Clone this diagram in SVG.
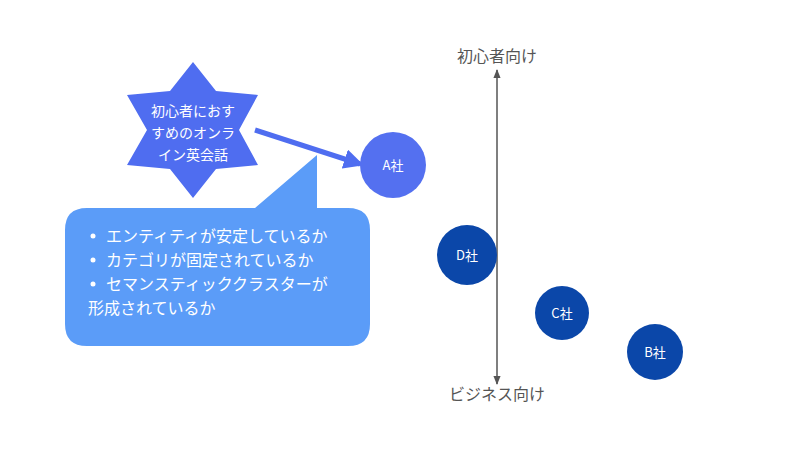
<svg xmlns="http://www.w3.org/2000/svg" width="800" height="450" viewBox="0 0 800 450">
<style>
text{font-family:"Noto Sans CJK JP","Noto Sans",sans-serif}
.w{fill:#fff;font-size:14px}
.ax{fill:#555;font-size:16px}
.dk{fill:#0b47a9}
</style>
<defs>
<marker id="ah" viewBox="0 0 10 10" refX="9" refY="5" markerWidth="6" markerHeight="6" orient="auto-start-reverse"><path d="M0,1 L10,5 L0,9 z" fill="#555"/></marker>
<marker id="bh" viewBox="0 0 10 10" refX="8" refY="5" markerWidth="4" markerHeight="4" orient="auto"><path d="M0,0 L10,5 L0,10 z" fill="#4f6df0"/></marker>
</defs>
<rect width="800" height="450" fill="#fff"/>
<g id="connectors">
<line x1="497" y1="70" x2="497" y2="384" stroke="#555" stroke-width="1.5" marker-start="url(#ah)" marker-end="url(#ah)"/>
<line x1="255" y1="130" x2="360" y2="164" stroke="#4f6df0" stroke-width="5" marker-end="url(#bh)"/>
</g>
<g id="star">
<polygon points="193,62 216,91 258,95 239,130 258,165 216,169 193,198 170,169 127,165 147,130 127,95 170,91" fill="#4f6df0"/>
<text class="w" text-anchor="middle" x="193" y="116">初心者におす</text>
<text class="w" text-anchor="middle" x="193" y="138">すめのオンラ</text>
<text class="w" text-anchor="middle" x="193" y="160">イン英会話</text>
</g>
<g id="callout">
<path d="M87,208 H255 L317,155 V208 H348 Q370,208 370,230 V324 Q370,346 348,346 H87 Q65,346 65,324 V230 Q65,208 87,208 Z" fill="#5b9cf8"/>
<g fill="#fff" font-size="16">
<circle cx="93" cy="236" r="2.5"/><circle cx="93" cy="260" r="2.5"/><circle cx="93" cy="284" r="2.5"/>
<text class="w" style="font-size:16px" x="106" y="242">エンティティが安定しているか</text>
<text class="w" style="font-size:16px" x="106" y="266">カテゴリが固定されているか</text>
<text class="w" style="font-size:16px" x="106" y="290">セマンスティッククラスターが</text>
<text class="w" style="font-size:16px" x="88" y="314">形成されているか</text>
</g>
</g>
<g id="A"><circle cx="393" cy="165" r="33" fill="#5470f0"/><text class="w" text-anchor="middle" x="393" y="170" style="font-size:13px">A社</text></g>
<g id="D"><circle cx="467" cy="255" r="30" class="dk"/><text class="w" text-anchor="middle" x="467" y="260" style="font-size:13px">D社</text></g>
<g id="C"><circle cx="562" cy="313" r="27" class="dk"/><text class="w" text-anchor="middle" x="562" y="318" style="font-size:13px">C社</text></g>
<g id="B"><circle cx="655" cy="352" r="28" class="dk"/><text class="w" text-anchor="middle" x="655" y="357" style="font-size:13px">B社</text></g>
<text class="ax" text-anchor="middle" x="497" y="62">初心者向け</text>
<text class="ax" text-anchor="middle" x="497" y="400">ビジネス向け</text>
</svg>
